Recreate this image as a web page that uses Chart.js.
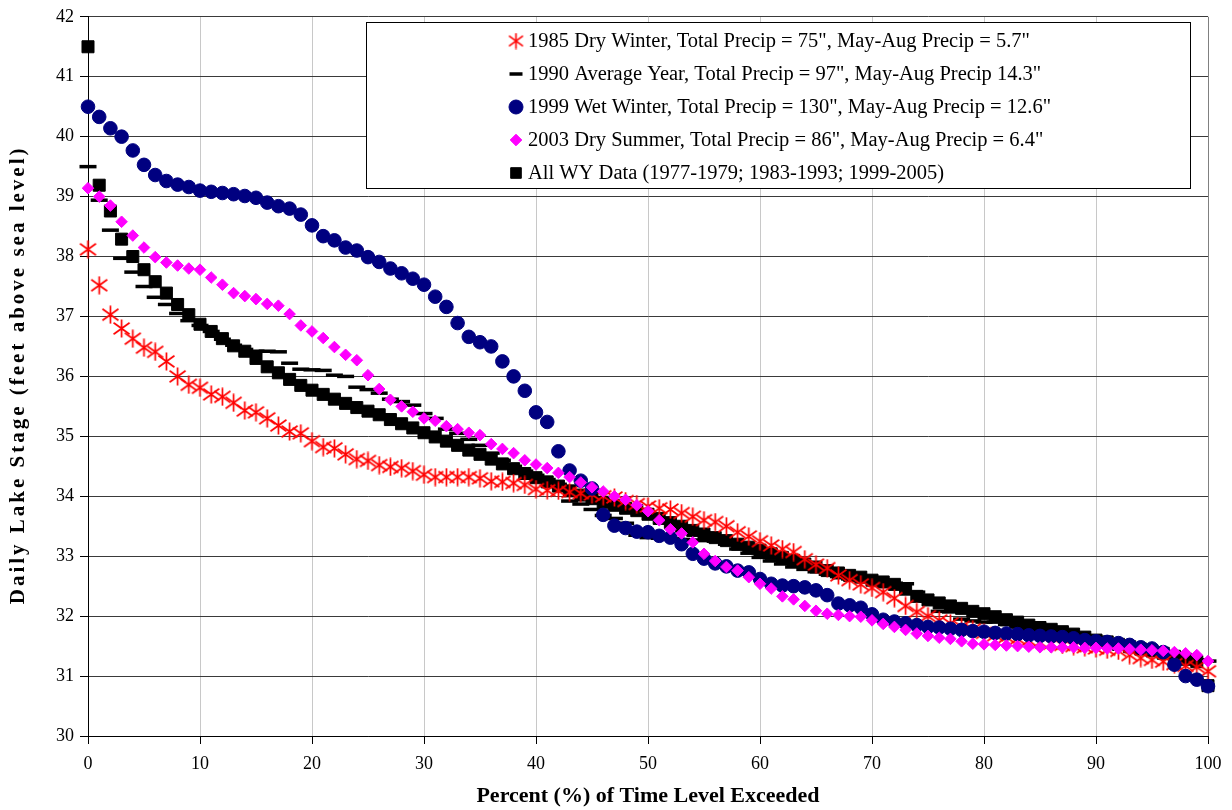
<!DOCTYPE html>
<html>
<head>
<meta charset="utf-8">
<script src="https://cdn.jsdelivr.net/npm/chart.js@4.4.0/dist/chart.umd.min.js"></script>
<style>
  html, body { margin: 0; padding: 0; background: #fff; }
  #wrap { width: 1232px; height: 810px; }
</style>
</head>
<body>
<div id="wrap"><canvas id="chart" width="1232" height="810"></canvas></div>
<script>
// Percent of time level exceeded (x values)
const percent = [0,1,2,3,4,5,6,7,8,9,10,11,12,13,14,15,16,17,18,19,20,21,22,23,24,25,26,27,28,29,30,
  31,32,33,34,35,36,37,38,39,40,41,42,43,44,45,46,47,48,49,50,51,52,53,54,55,56,57,58,59,60,
  61,62,63,64,65,66,67,68,69,70,71,72,73,74,75,76,77,78,79,80,81,82,83,84,85,86,87,88,89,90,
  91,92,93,94,95,96,97,98,99,100];

// Daily lake stage (ft above sea level)
const dry1985 = [38.12,37.52,37.03,36.8,36.63,36.48,36.41,36.25,36.0,35.86,35.81,35.7,35.66,35.56,35.43,35.4,35.3,35.18,35.08,35.05,
  34.92,34.82,34.8,34.7,34.62,34.59,34.52,34.49,34.47,34.42,34.36,34.32,34.32,34.32,34.32,34.3,34.25,34.24,34.22,34.19,
  34.12,34.1,34.09,34.07,34.05,34.03,34.0,33.98,33.92,33.87,33.83,33.8,33.78,33.72,33.66,33.6,33.57,33.5,33.4,33.33,
  33.25,33.18,33.12,33.07,32.95,32.86,32.8,32.68,32.6,32.53,32.47,32.4,32.3,32.17,32.07,32.0,31.93,31.88,31.82,31.78,
  31.72,31.68,31.65,31.62,31.59,31.56,31.54,31.52,31.5,31.48,31.46,31.44,31.42,31.35,31.3,31.27,31.24,31.2,31.17,31.15,31.08];

const avg1990 = [39.5,38.94,38.44,37.97,37.74,37.5,37.32,37.2,37.05,36.93,36.85,36.75,36.62,36.52,36.45,36.42,36.42,36.41,36.22,36.12,
  36.11,36.1,36.02,36.0,35.82,35.78,35.72,35.62,35.58,35.52,35.38,35.3,35.12,35.05,34.95,34.85,34.72,34.6,34.5,34.42,
  34.35,34.28,34.2,33.92,33.87,33.78,33.68,33.63,33.55,33.35,33.31,33.3,33.29,33.28,33.27,33.26,33.25,33.2,33.12,33.05,
  32.98,32.92,32.87,32.82,32.78,32.74,32.7,32.66,32.62,32.6,32.58,32.56,32.55,32.54,32.4,32.25,32.08,32.07,31.95,31.92,
  31.9,31.9,31.86,31.82,31.79,31.76,31.74,31.71,31.68,31.65,31.62,31.58,31.55,31.5,31.46,31.42,31.38,31.34,31.3,31.27,31.25];

const wet1999 = [40.5,40.33,40.14,40.0,39.77,39.53,39.36,39.26,39.2,39.16,39.1,39.08,39.06,39.04,39.01,38.98,38.9,38.84,38.8,38.7,
  38.52,38.34,38.27,38.15,38.1,37.99,37.91,37.8,37.72,37.63,37.53,37.33,37.16,36.89,36.66,36.57,36.5,36.25,36.0,35.76,
  35.4,35.24,34.75,34.43,34.26,34.13,33.69,33.51,33.47,33.41,33.4,33.34,33.31,33.2,33.04,32.96,32.88,32.83,32.76,32.73,
  32.62,32.54,32.51,32.5,32.48,32.43,32.35,32.21,32.18,32.14,32.03,31.94,31.91,31.88,31.85,31.82,31.81,31.79,31.77,31.75,
  31.74,31.72,31.71,31.7,31.68,31.67,31.66,31.65,31.63,31.6,31.58,31.57,31.55,31.52,31.48,31.46,31.4,31.19,31.0,30.94,30.83];

const drySummer2003 = [39.14,39.0,38.85,38.58,38.35,38.15,37.99,37.9,37.85,37.8,37.78,37.65,37.53,37.39,37.34,37.29,37.21,37.18,37.04,36.85,
  36.75,36.64,36.49,36.36,36.27,36.02,35.79,35.61,35.5,35.41,35.3,35.26,35.17,35.12,35.06,35.02,34.87,34.79,34.72,34.6,
  34.53,34.47,34.39,34.32,34.23,34.15,34.08,34.0,33.94,33.85,33.75,33.6,33.45,33.38,33.23,33.04,32.92,32.82,32.76,32.65,
  32.54,32.46,32.33,32.28,32.17,32.09,32.04,32.02,32.0,31.99,31.93,31.87,31.82,31.77,31.71,31.67,31.64,31.62,31.58,31.54,
  31.53,31.52,31.51,31.5,31.49,31.48,31.48,31.48,31.48,31.47,31.47,31.46,31.46,31.45,31.44,31.43,31.42,31.4,31.38,31.35,31.25];

const allWY = [41.5,39.19,38.76,38.29,38.0,37.78,37.58,37.39,37.2,37.03,36.87,36.75,36.63,36.51,36.42,36.3,36.16,36.06,35.95,35.85,
  35.77,35.7,35.62,35.55,35.48,35.42,35.36,35.28,35.21,35.14,35.06,34.99,34.92,34.85,34.77,34.7,34.62,34.54,34.46,34.38,
  34.31,34.24,34.17,34.09,34.02,33.96,33.9,33.85,33.8,33.76,33.7,33.63,33.56,33.5,33.43,33.37,33.31,33.26,33.2,33.15,
  33.1,33.04,32.98,32.93,32.87,32.82,32.76,32.72,32.68,32.65,32.6,32.57,32.53,32.45,32.33,32.27,32.22,32.17,32.13,32.08,
  32.04,31.99,31.94,31.9,31.85,31.81,31.78,31.74,31.7,31.65,31.6,31.57,31.53,31.49,31.45,31.42,31.38,31.33,31.28,31.24,30.84];

const seriesLabels = [
  '1985 Dry Winter, Total Precip = 75", May-Aug Precip = 5.7"',
  '1990 Average Year, Total Precip = 97", May-Aug Precip 14.3"',
  '1999 Wet Winter, Total Precip = 130", May-Aug Precip = 12.6"',
  '2003 Dry Summer, Total Precip = 86", May-Aug Precip = 6.4"',
  'All WY Data (1977-1979; 1983-1993; 1999-2005)'
];

const yTicks = [30,31,32,33,34,35,36,37,38,39,40,41,42];
const xTicks = [0,10,20,30,40,50,60,70,80,90,100];
const yTitle = 'Daily Lake Stage (feet above sea level)';
const xTitle = 'Percent (%) of Time Level Exceeded';

const FONT = "'Liberation Serif', 'Times New Roman', serif";

// asterisk marker (Excel style star)
function makeStar(size, lw) {
  const c = document.createElement('canvas');
  c.width = size; c.height = size;
  const g = c.getContext('2d');
  g.strokeStyle = '#ff0000';
  g.lineWidth = lw;
  const m = size / 2;
  g.beginPath();
  g.moveTo(m, 0.5); g.lineTo(m, size - 0.5);
  g.moveTo(1.5, size * 0.2); g.lineTo(size - 1.5, size * 0.8);
  g.moveTo(size - 1.5, size * 0.2); g.lineTo(1.5, size * 0.8);
  g.stroke();
  return c;
}
const starImg = makeStar(19, 1.7);
const starSmall = makeStar(17, 1.6);

function pts(vals) {
  return vals.map((v, i) => ({ x: percent[i], y: v }));
}

const styles = [
  { pointStyle: starImg, radius: 9, color: '#ff0000', bw: 1 },
  { pointStyle: 'line', radius: 8.5, color: '#000000', bw: 3.5 },
  { pointStyle: 'circle', radius: 6.8, color: '#000080', bw: 1 },
  { pointStyle: 'rectRot', radius: 5.8, color: '#ff00ff', bw: 1 },
  { pointStyle: 'rect', radius: 8.5, color: '#000000', bw: 1 }
];
const seriesData = [dry1985, avg1990, wet1999, drySummer2003, allWY];

// draw order: first in list ends up on top
const drawOrder = [3, 2, 0, 1, 4];
const datasets = drawOrder.map(i => ({
  label: seriesLabels[i],
  data: pts(seriesData[i]),
  showLine: false,
  clip: false,
  pointStyle: styles[i].pointStyle,
  pointRadius: styles[i].radius,
  pointBackgroundColor: styles[i].color,
  pointBorderColor: styles[i].color,
  pointBorderWidth: styles[i].bw,
  pointHoverRadius: styles[i].radius
}));

const legendBox = {
  id: 'legendBox',
  afterDraw(chart) {
    const ctx = chart.ctx;
    ctx.save();
    ctx.fillStyle = '#ffffff';
    ctx.fillRect(366, 22, 824, 166);
    ctx.strokeStyle = '#000000';
    ctx.lineWidth = 1;
    ctx.strokeRect(366.5, 22.5, 824, 166);
    ctx.font = '20.5px ' + FONT;
    ctx.textBaseline = 'middle';
    ctx.textAlign = 'left';
    seriesLabels.forEach((lab, i) => {
      const y = 41 + i * 33;
      const st = styles[i];
      const opts = {
        pointStyle: i === 0 ? starSmall : st.pointStyle,
        radius: i === 1 ? 6.5 : (i === 4 ? 7.5 : (i === 2 ? 7 : st.radius)),
        borderWidth: st.bw,
        rotation: 0
      };
      ctx.fillStyle = st.color;
      ctx.strokeStyle = st.color;
      ctx.lineWidth = st.bw;
      Chart.helpers.drawPoint(ctx, opts, 516, y);
      ctx.fillStyle = '#000000';
      ctx.fillText(lab, 528, y + 1);
    });

    // y axis title, spaced out like the original
    const area = chart.chartArea;
    ctx.translate(19, (area.top + area.bottom) / 2);
    ctx.rotate(-Math.PI / 2);
    ctx.font = 'bold 21px ' + FONT;
    ctx.textAlign = 'center';
    ctx.fillStyle = '#000000';
    if ('letterSpacing' in ctx) ctx.letterSpacing = '3px';
    ctx.fillText(yTitle, 1.5, 0);
    ctx.restore();
  }
};

new Chart(document.getElementById('chart'), {
  type: 'scatter',
  data: { datasets },
  options: {
    responsive: false,
    devicePixelRatio: 1,
    animation: false,
    layout: { padding: { top: 13, right: 24, left: 0, bottom: 0 } },
    plugins: {
      legend: { display: false },
      tooltip: { enabled: false }
    },
    scales: {
      x: {
        type: 'linear',
        min: 0,
        max: 100,
        afterBuildTicks: s => { s.ticks = xTicks.map(v => ({ value: v })); },
        afterFit: s => { s.height = 74; },
        ticks: { color: '#000', font: { family: FONT, size: 18 }, padding: 9, maxRotation: 0 },
        grid: {
          color: c => (c.tick && c.tick.value === 100) ? '#808080' : '#c8c8c8',
          tickColor: '#000',
          tickLength: 8,
          lineWidth: 1
        },
        border: { color: '#000', width: 1 },
        title: {
          display: true,
          text: xTitle,
          color: '#000',
          font: { family: FONT, size: 22, weight: 'bold' },
          padding: { top: 0, bottom: 0 }
        }
      },
      y: {
        min: 30,
        max: 42,
        afterBuildTicks: s => { s.ticks = yTicks.map(v => ({ value: v })); },
        afterFit: s => { s.width = 88; },
        ticks: { color: '#000', font: { family: FONT, size: 18 }, padding: 6 },
        grid: { color: '#3a3a3a', tickColor: '#000', tickLength: 8, lineWidth: 1 },
        border: { color: '#000', width: 1 },
        title: { display: false }
      }
    }
  },
  plugins: [legendBox]
});
</script>
</body>
</html>
